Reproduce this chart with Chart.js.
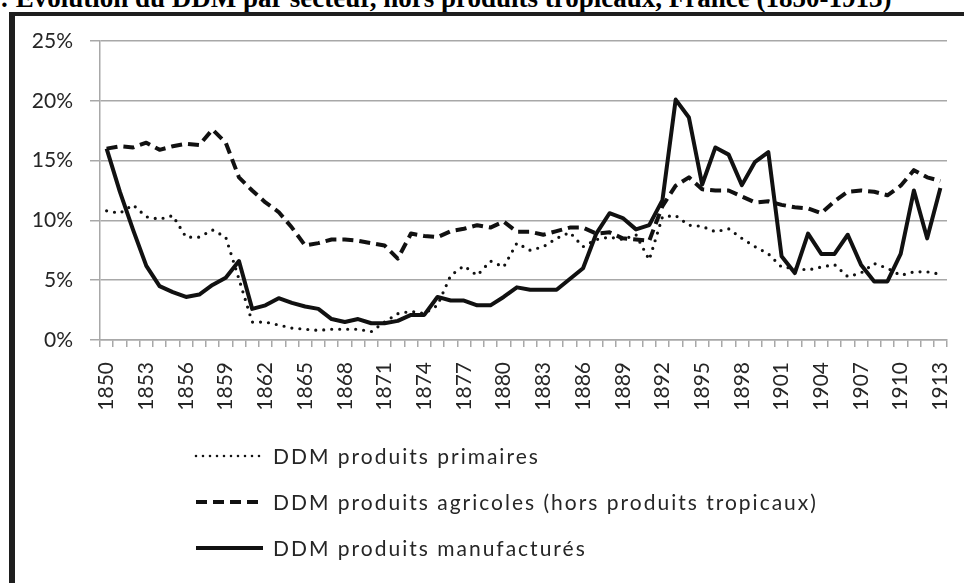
<!DOCTYPE html>
<html lang="fr">
<head>
<meta charset="utf-8">
<title>Évolution du DDM par secteur</title>
<script src="https://cdn.jsdelivr.net/npm/chart.js@4.4.1/dist/chart.umd.min.js"></script>
<style>
  html, body { margin: 0; padding: 0; background: #fff; }
  body { width: 964px; height: 583px; position: relative; overflow: hidden; }
  #title {
    position: absolute; left: 0; top: -15px;
    font: bold 27px "Liberation Serif", "Times New Roman", serif;
    line-height: 27px; white-space: nowrap; color: #000;
  }
  #frame {
    position: absolute; left: 9px; top: 12px; width: 1000px; height: 620px;
    border-left: 6px solid #1e1e1e; border-top: 4px solid #1e1e1e;
  }
  #chart { position: absolute; left: 0; top: 0; }
</style>
</head>
<body>
<div id="title">: Évolution du DDM par secteur, hors produits tropicaux, France (1850-1913)</div>
<div id="frame"></div>
<canvas id="chart" width="964" height="583"></canvas>
<script>
// years 1850..1913
const years = [];
for (let y = 1850; y <= 1913; y++) years.push(String(y));

// DDM, in percent
const primaires = [
  10.8, 10.6, 11.3, 10.3, 10.1, 10.4, 8.6, 8.6, 9.2, 8.6,
  5.1, 1.5, 1.5, 1.25, 1.0, 0.9, 0.8, 0.9, 0.9, 0.9,
  0.7, 1.5, 2.2, 2.4, 2.2, 2.9, 5.4, 6.2, 5.4, 6.6,
  6.1, 8.1, 7.5, 7.8, 8.5, 9.0, 7.8, 8.4, 8.6, 8.4,
  8.8, 6.7, 10.3, 10.4, 9.6, 9.5, 9.05, 9.3, 8.5, 7.8,
  7.2, 6.1, 6.0, 5.85, 6.1, 6.3, 5.3, 5.6, 6.4, 6.0,
  5.4, 5.7, 5.7, 5.5
];
const agricoles = [
  16.0, 16.2, 16.1, 16.5, 15.9, 16.2, 16.4, 16.3, 17.6, 16.5,
  13.6, 12.5, 11.5, 10.7, 9.4, 7.9, 8.1, 8.4, 8.4, 8.3,
  8.1, 7.9, 6.8, 8.9, 8.7, 8.6, 9.1, 9.3, 9.6, 9.4,
  9.9, 9.05, 9.05, 8.8, 9.1, 9.4, 9.4, 8.9, 9.0, 8.5,
  8.4, 8.3, 11.2, 12.9, 13.6, 12.6, 12.5, 12.5, 12.0, 11.5,
  11.6, 11.3, 11.1, 11.0, 10.6, 11.6, 12.4, 12.5, 12.4, 12.1,
  12.9, 14.2, 13.6, 13.3
];
const manufactures = [
  16.0, 12.4, 9.2, 6.2, 4.5, 4.0, 3.6, 3.8, 4.6, 5.2,
  6.6, 2.6, 2.9, 3.5, 3.1, 2.8, 2.6, 1.75, 1.5, 1.75,
  1.4, 1.4, 1.6, 2.1, 2.1, 3.6, 3.3, 3.3, 2.9, 2.9,
  3.6, 4.4, 4.2, 4.2, 4.2, 5.1, 6.0, 8.9, 10.6, 10.2,
  9.25, 9.6, 11.7, 20.1, 18.6, 13.0, 16.1, 15.5, 12.95, 14.9,
  15.7, 7.0, 5.6, 8.9, 7.2, 7.2, 8.8, 6.3, 4.9, 4.9,
  7.2, 12.5, 8.5, 12.7
];
const yTicks = [0, 5, 10, 15, 20, 25];

const gridGray = '#a8a8a8';
const ink = '#111';

Chart.defaults.font.family = 'Lato, "Open Sans", sans-serif';
Chart.defaults.color = '#262626';

// legend drawn as a column of line samples under the axis
const lineLegend = {
  id: 'lineLegend',
  afterDraw(chart) {
    const c = chart.ctx;
    const x0 = 196, sample = 67, rowTop = 456, rowGap = 46;
    c.save();
    c.font = '21px Lato, "Open Sans", sans-serif';
    c.letterSpacing = '2px';
    c.textBaseline = 'middle';
    c.fillStyle = '#262626';
    chart.data.datasets.forEach((ds, i) => {
      const y = rowTop + i * rowGap;
      c.beginPath();
      c.strokeStyle = ds.borderColor;
      c.lineWidth = i === 0 ? 2.6 : ds.borderWidth;
      c.lineCap = ds.borderCapStyle || 'butt';
      c.setLineDash(i === 0 ? [0, 7] : ds.borderDash || []);
      c.moveTo(x0, y);
      c.lineTo(x0 + sample, y);
      c.stroke();
      c.setLineDash([]);
      c.fillText(ds.label, x0 + sample + 10, y + 1);
    });
    c.restore();
  }
};

new Chart(document.getElementById('chart'), {
  type: 'line',
  data: {
    labels: years,
    datasets: [
      {
        label: 'DDM produits primaires',
        data: primaires,
        borderColor: ink,
        borderWidth: 3.2,
        borderDash: [0, 8],
        borderCapStyle: 'round',
        order: 3,
      },
      {
        label: 'DDM produits agricoles (hors produits tropicaux)',
        data: agricoles,
        borderColor: ink,
        borderWidth: 4,
        borderDash: [11, 6],
        order: 2,
      },
      {
        label: 'DDM produits manufacturés',
        data: manufactures,
        borderColor: ink,
        borderWidth: 4,
        order: 1,
      },
    ],
  },
  options: {
    responsive: false,
    animation: false,
    events: [],
    elements: {
      point: { radius: 0 },
      line: { tension: 0, borderJoinStyle: 'round' },
    },
    layout: { padding: { top: 41, right: 0, left: 0, bottom: 0 } },
    plugins: {
      legend: { display: false },
      title: { display: false },
      tooltip: { enabled: false },
    },
    scales: {
      x: {
        type: 'category',
        offset: true,
        afterFit: (s) => { s.height = 243; s.paddingRight = 17; },
        grid: {
          offset: true,
          drawOnChartArea: false,
          drawTicks: true,
          tickLength: 7,
          color: gridGray,
          lineWidth: 1.5,
        },
        border: { color: gridGray, width: 1.5 },
        ticks: {
          autoSkip: false,
          minRotation: 90,
          maxRotation: 90,
          padding: 15,
          font: { size: 21 },
          callback: (v, i) => (i % 3 === 0 ? years[i] : ''),
        },
      },
      y: {
        min: 0,
        max: 25,
        afterFit: (s) => { s.width = 100; },
        afterBuildTicks: (s) => { s.ticks = yTicks.map((v) => ({ value: v })); },
        grid: { color: gridGray, lineWidth: 1.5, tickLength: 10 },
        border: { color: gridGray, width: 1.5 },
        ticks: {
          padding: 17,
          font: { size: 21 },
          callback: (v) => v + '%',
        },
      },
    },
  },
  plugins: [lineLegend],
});
</script>
</body>
</html>
